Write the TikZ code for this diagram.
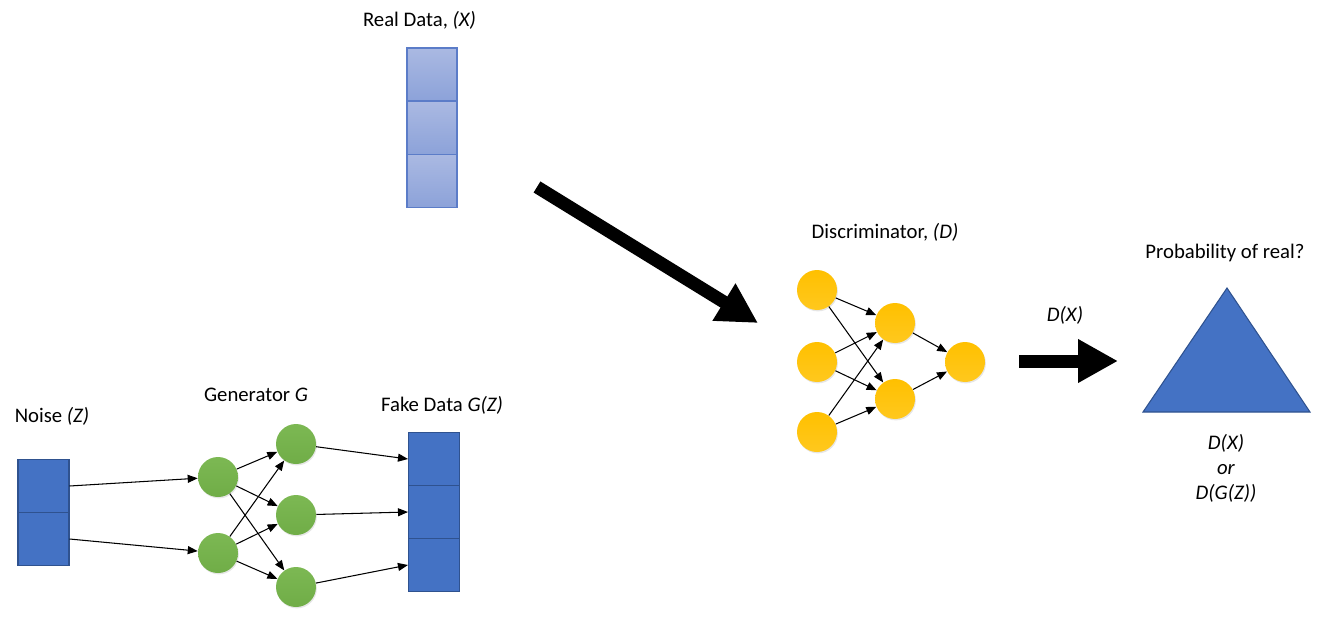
\documentclass[tikz,border=0pt]{standalone}
\usepackage{fontspec}
\setmainfont{Carlito}
\usetikzlibrary{arrows.meta,shadows}
\definecolor{boxblue}{HTML}{4472C4}
\definecolor{boxedge}{HTML}{2F528F}
\definecolor{realtop}{HTML}{AAB9E2}
\definecolor{realbot}{HTML}{8CA2D9}
\definecolor{realedge}{HTML}{5B7CC8}
\definecolor{ngreen}{HTML}{70AD47}
\definecolor{ngreenlt}{HTML}{7CB853}
\definecolor{nyellow}{HTML}{FFC000}
\definecolor{nyellowlt}{HTML}{FFC81E}
\begin{document}
\begin{tikzpicture}[
    x=0.02cm, y=-0.02cm,
    every node/.style={font=\fontsize{11.8}{14.2}\selectfont},
    cell/.style={rectangle,draw=boxedge,fill=boxblue,line width=0.6pt,minimum width=1.02cm,minimum height=1.06cm,inner sep=0pt},
    realcell/.style={rectangle,draw=realedge,top color=realtop,bottom color=realbot,line width=0.6pt,minimum width=1.0cm,minimum height=1.06cm,inner sep=0pt},
    gnode/.style={circle,top color=ngreenlt,bottom color=ngreen,minimum size=0.8cm,inner sep=0pt,drop shadow={opacity=0.2,shadow xshift=0.5pt,shadow yshift=-0.8pt}},
    dnode/.style={circle,top color=nyellow,bottom color=nyellowlt,minimum size=0.8cm,inner sep=0pt,drop shadow={opacity=0.2,shadow xshift=0.5pt,shadow yshift=-0.8pt}},
    link/.style={line width=0.6pt,-{Triangle[length=2mm,width=1.6mm]}},
    bigarrow/.style={line width=0.26cm,-{Triangle[length=0.8cm,width=0.82cm]}}
]
    \useasboundingbox (0,0) rectangle (1322,619);

    % Noise input
    \node (noiselbl) at (52,416) {Noise \textit{(Z)}};
    \node[cell] (z1) at (43.5,486) {};
    \node[cell] (z2) at (43.5,539) {};

    % Generator network
    \node (genlbl) at (256,395) {Generator \textit{G}};
    \node[gnode] (g11) at (218,477) {};
    \node[gnode] (g12) at (218,553) {};
    \node[gnode] (g21) at (296,444) {};
    \node[gnode] (g22) at (296,515) {};
    \node[gnode] (g23) at (296,587) {};

    % Fake data
    \node (fakelbl) at (442,405) {Fake Data \textit{G(Z)}};
    \node[cell] (f1) at (434,459) {};
    \node[cell] (f2) at (434,512) {};
    \node[cell] (f3) at (434,565) {};

    \draw[link] (z1.east) -- (g11);
    \draw[link] (z2.east) -- (g12);
    \foreach \i in {1,2}
        \foreach \j in {1,2,3}
            \draw[link] (g1\i) -- (g2\j);
    \draw[link] (g21) -- (f1.west);
    \draw[link] (g22) -- (f2.west);
    \draw[link] (g23) -- (f3.west);

    % Real data
    \node (reallbl) at (419.5,20) {Real Data, \textit{(X)}};
    \node[realcell] (x1) at (432,74.5) {};
    \node[realcell] (x2) at (432,128) {};
    \node[realcell] (x3) at (432,181) {};

    \coordinate (feedA) at (537,187);
    \coordinate (feedB) at (758,323);
    \draw[bigarrow] (feedA) -- (feedB);

    % Discriminator network
    \node (disclbl) at (885,232) {Discriminator, \textit{(D)}};
    \node[dnode] (d11) at (817,290) {};
    \node[dnode] (d12) at (817,362) {};
    \node[dnode] (d13) at (817,432) {};
    \node[dnode] (d21) at (895,323) {};
    \node[dnode] (d22) at (895,399) {};
    \node[dnode] (dout) at (965,362) {};
    \foreach \i in {1,2,3}
        \foreach \j in {1,2}
            \draw[link] (d1\i) -- (d2\j);
    \draw[link] (d21) -- (dout);
    \draw[link] (d22) -- (dout);

    % Output
    \node (dxlbl) at (1065,315) {\textit{D(X)}};
    \coordinate (outA) at (1019,361);
    \coordinate (outB) at (1118,361);
    \draw[bigarrow] (outA) -- (outB);

    \node (problbl) at (1225,253) {Probability of real?};
    \draw[draw=boxedge,fill=boxblue,line width=0.6pt] (1143,412) -- (1227,288) -- (1310,412) -- cycle;
    \node[align=center] (reslbl) at (1226,468) {\textit{D(X)}\\ \textit{or}\\ \textit{D(G(Z))}};
\end{tikzpicture}
\end{document}
